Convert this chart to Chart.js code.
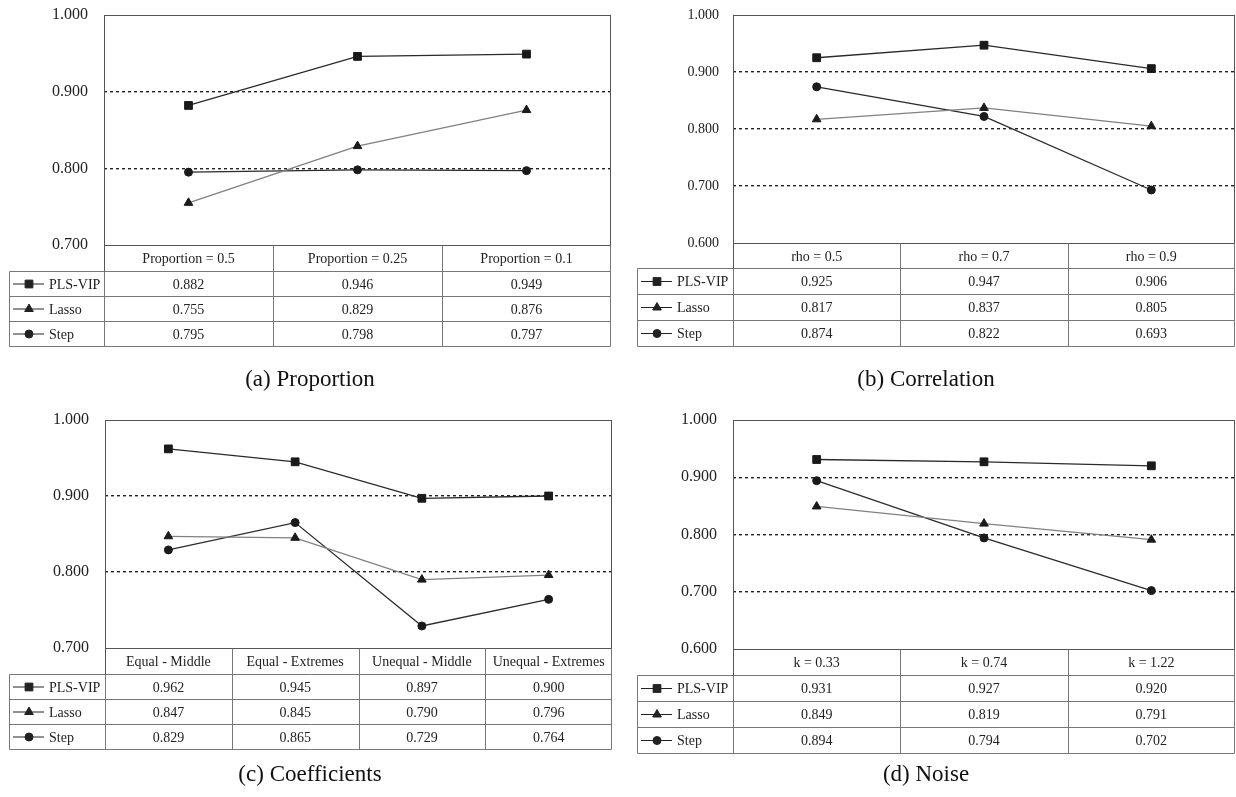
<!DOCTYPE html>
<html>
<head>
<meta charset="utf-8">
<script src="https://cdn.jsdelivr.net/npm/chart.js@4.4.1/dist/chart.umd.min.js"></script>
<style>
  body { margin: 0; background: #fff; }
  .panel { position: absolute; }
</style>
</head>
<body>
<div class="panel" style="left:0;top:0"><canvas id="chart_a" width="618" height="400"></canvas></div>
<div class="panel" style="left:618px;top:0"><canvas id="chart_b" width="618" height="400"></canvas></div>
<div class="panel" style="left:0;top:400px"><canvas id="chart_c" width="618" height="397"></canvas></div>
<div class="panel" style="left:618px;top:400px"><canvas id="chart_d" width="618" height="397"></canvas></div>
<script>
const seriesNames = ['PLS-VIP', 'Lasso', 'Step'];

// (a) Proportion
const propCats = ['Proportion = 0.5', 'Proportion = 0.25', 'Proportion = 0.1'];
const propPls = [0.882, 0.946, 0.949];
const propLasso = [0.755, 0.829, 0.876];
const propStep = [0.795, 0.798, 0.797];

// (b) Correlation
const corrCats = ['rho = 0.5', 'rho = 0.7', 'rho = 0.9'];
const corrPls = [0.925, 0.947, 0.906];
const corrLasso = [0.817, 0.837, 0.805];
const corrStep = [0.874, 0.822, 0.693];

// (c) Coefficients
const coefCats = ['Equal - Middle', 'Equal - Extremes', 'Unequal - Middle', 'Unequal - Extremes'];
const coefPls = [0.962, 0.945, 0.897, 0.900];
const coefLasso = [0.847, 0.845, 0.790, 0.796];
const coefStep = [0.829, 0.865, 0.729, 0.764];

// (d) Noise
const noiseCats = ['k = 0.33', 'k = 0.74', 'k = 1.22'];
const noisePls = [0.931, 0.927, 0.920];
const noiseLasso = [0.849, 0.819, 0.791];
const noiseStep = [0.894, 0.794, 0.702];

const FONT = "'Liberation Serif', 'Times New Roman', serif";
const pointStyles = ['rect', 'triangle', 'circle'];
const pointSizes = [5.5, 5, 4];
const lineColors = ['#2a2a2a', '#808080', '#2a2a2a'];

// draws the box round the plot, the data table under it and the caption
const tablePlugin = {
  id: 'dataTable',
  afterDraw(chart, args, opts) {
    const ctx = chart.ctx;
    const area = chart.chartArea;
    const xs = chart.scales.x;
    const cats = chart.data.labels;
    const n = cats.length;
    const colW = (area.right - area.left) / n;
    const top = Math.round(area.bottom) + 0.5;
    const hdrBottom = top + opts.headerH;
    const tblBottom = hdrBottom + opts.rowH * chart.data.datasets.length;
    const L = Math.round(area.left) + 0.5, R = Math.round(area.right) - 0.5;

    ctx.save();
    // plot box
    ctx.strokeStyle = '#555';
    ctx.lineWidth = 1;
    ctx.setLineDash([]);
    ctx.strokeRect(L, Math.round(area.top) + 0.5, R - L, top - Math.round(area.top) - 0.5);

    // table lines
    ctx.strokeStyle = '#777';
    ctx.beginPath();
    ctx.moveTo(L, hdrBottom); ctx.lineTo(L, tblBottom);
    ctx.moveTo(R, top); ctx.lineTo(R, tblBottom);
    ctx.moveTo(opts.left + 0.5, hdrBottom); ctx.lineTo(opts.left + 0.5, tblBottom);
    for (let i = 1; i < n; i++) {
      const bx = Math.round(area.left + colW * i) + 0.5;
      ctx.moveTo(bx, top); ctx.lineTo(bx, tblBottom);
    }
    for (let r = 0; r <= chart.data.datasets.length; r++) {
      const y = hdrBottom + opts.rowH * r;
      ctx.moveTo(opts.left + 0.5, y); ctx.lineTo(R, y);
    }
    ctx.stroke();
    ctx.strokeStyle = '#555';
    ctx.beginPath();
    ctx.moveTo(L, top); ctx.lineTo(L, hdrBottom);
    ctx.stroke();

    ctx.fillStyle = '#222';
    ctx.font = opts.fontSize + 'px ' + FONT;
    ctx.textAlign = 'center';
    ctx.textBaseline = 'middle';
    cats.forEach((c, i) => {
      ctx.fillText(c, xs.getPixelForValue(i), top + opts.headerH / 2 + 1);
    });

    chart.data.datasets.forEach((ds, r) => {
      const cy = hdrBottom + opts.rowH * r + opts.rowH / 2 + 1;
      ds.data.forEach((v, i) => {
        ctx.textAlign = 'center';
        ctx.fillText(v.toFixed(3), xs.getPixelForValue(i), cy);
      });
      // legend key
      const kx = opts.left;
      ctx.strokeStyle = '#222';
      ctx.lineWidth = 1;
      ctx.beginPath();
      ctx.moveTo(kx + 4, cy - 1); ctx.lineTo(kx + 35, cy - 1);
      ctx.stroke();
      Chart.helpers.drawPoint(ctx, {
        pointStyle: ds.pointStyle, radius: ds.pointRadius, borderWidth: 1, rotation: 0
      }, kx + 20, cy - 1);
      ctx.fillStyle = '#222';
      ctx.textAlign = 'left';
      ctx.fillText(ds.label, kx + 40, cy);
    });

    // caption
    ctx.font = '23px ' + FONT;
    ctx.textAlign = 'center';
    ctx.fillStyle = '#111';
    ctx.fillText(opts.caption, opts.captionX, opts.captionY);
    ctx.restore();
  }
};

function makeChart(id, cats, pls, lasso, step, cfg) {
  const values = [pls, lasso, step];
  const datasets = seriesNames.map((name, k) => ({
    label: name,
    data: values[k],
    borderColor: lineColors[k],
    borderWidth: 1.3,
    pointStyle: pointStyles[k],
    pointRadius: pointSizes[k],
    pointBackgroundColor: '#1a1a1a',
    pointBorderColor: '#1a1a1a',
    pointBorderWidth: 1,
    tension: 0
  }));
  const yMin = cfg.yMin, yMax = 1.0;
  return new Chart(document.getElementById(id), {
    type: 'line',
    data: { labels: cats, datasets: datasets },
    options: {
      responsive: false,
      animation: false,
      devicePixelRatio: 1,
      layout: {
        autoPadding: false,
        padding: { left: 0, top: cfg.top, right: cfg.right, bottom: cfg.bottom }
      },
      plugins: {
        legend: { display: false },
        tooltip: { enabled: false },
        dataTable: cfg.table
      },
      scales: {
        x: { type: 'category', offset: true, display: false },
        y: {
          min: yMin,
          max: yMax,
          afterFit(scale) {
            scale.width = cfg.areaLeft;
            scale.paddingTop = 0;
            scale.paddingBottom = 0;
          },
          ticks: {
            stepSize: 0.1,
            padding: cfg.tickPad,
            color: '#222',
            font: { family: FONT, size: cfg.tickSize },
            callback: v => Number(v).toFixed(3)
          },
          border: { display: false, dash: [3, 3] },
          grid: {
            drawTicks: false,
            lineWidth: 1.4,
            color: c => {
              const v = c.tick ? c.tick.value : null;
              if (v === null || Math.abs(v - yMin) < 1e-6 || Math.abs(v - yMax) < 1e-6) return 'rgba(0,0,0,0)';
              return '#222';
            }
          }
        }
      }
    },
    plugins: [tablePlugin]
  });
}

makeChart('chart_a', propCats, propPls, propLasso, propStep, {
  yMin: 0.7, areaLeft: 104, top: 15, right: 7, bottom: 155, tickSize: 16, tickPad: 16,
  table: { left: 9, headerH: 26, rowH: 25, fontSize: 14, caption: '(a) Proportion', captionX: 310, captionY: 380 }
});
makeChart('chart_b', corrCats, corrPls, corrLasso, corrStep, {
  yMin: 0.6, areaLeft: 115, top: 15, right: 1, bottom: 157, tickSize: 14, tickPad: 14,
  table: { left: 19, headerH: 25, rowH: 26, fontSize: 14, caption: '(b) Correlation', captionX: 308, captionY: 380 }
});
makeChart('chart_c', coefCats, coefPls, coefLasso, coefStep, {
  yMin: 0.7, areaLeft: 105, top: 20, right: 6, bottom: 149, tickSize: 16, tickPad: 16,
  table: { left: 9, headerH: 26, rowH: 25, fontSize: 14, caption: '(c) Coefficients', captionX: 310, captionY: 375 }
});
makeChart('chart_d', noiseCats, noisePls, noiseLasso, noiseStep, {
  yMin: 0.6, areaLeft: 115, top: 20, right: 1, bottom: 148, tickSize: 16, tickPad: 16,
  table: { left: 19, headerH: 26, rowH: 26, fontSize: 14, caption: '(d) Noise', captionX: 308, captionY: 375 }
});
</script>
</body>
</html>
